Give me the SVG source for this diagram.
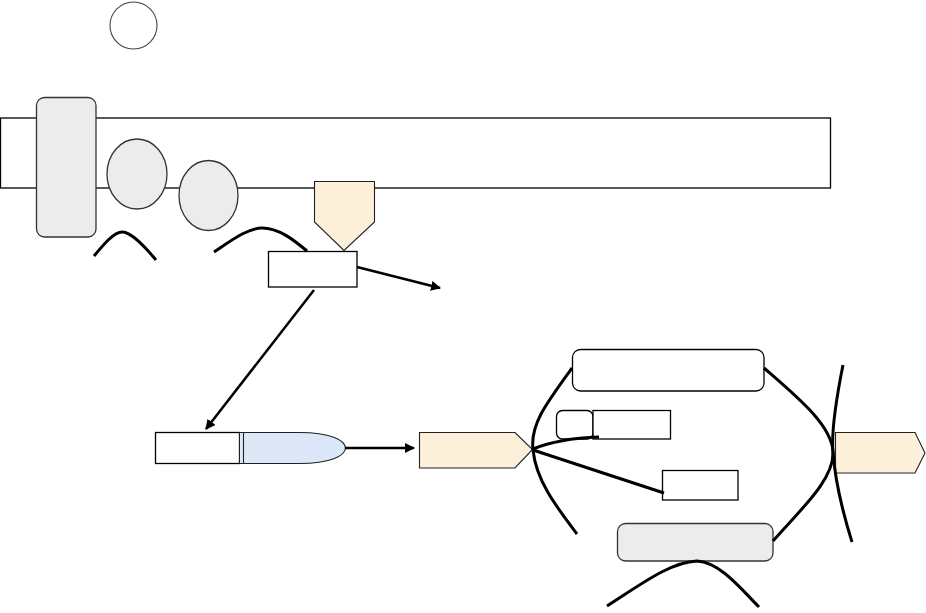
<svg xmlns="http://www.w3.org/2000/svg" width="926" height="613" viewBox="0 0 926 613">
<style>
.box{fill:#ffffff;stroke:#000;stroke-width:1.3}
.gray{fill:#ececec;stroke:#333;stroke-width:1.3}
.tan{fill:#fdf0da;stroke:#222;stroke-width:1.1}
.blue{fill:#dce8f7;stroke:#222;stroke-width:1.1}
.curve{fill:none;stroke:#000;stroke-width:3;stroke-linecap:butt}
.arrow{fill:none;stroke:#000;stroke-width:2.5}
</style>
<defs>
<marker id="ah" viewBox="0 0 10 10" refX="9" refY="5" markerWidth="4" markerHeight="4" orient="auto" markerUnits="strokeWidth">
<path d="M0,0 L10,5 L0,10 z" fill="#000"/>
</marker>
</defs>
<rect width="926" height="613" fill="#fff"/>
<g id="band"><rect class="box" x="0.5" y="118" width="830" height="70"/></g>
<g id="circle-top"><circle cx="133.5" cy="25.5" r="23.5" fill="#fff" stroke="#444" stroke-width="1.1"/></g>
<g id="pillar"><rect class="gray" x="36.5" y="97.5" width="59.5" height="139.5" rx="8"/></g>
<g id="ellipse1"><ellipse class="gray" cx="137" cy="174" rx="30" ry="35"/></g>
<g id="ellipse2"><ellipse class="gray" cx="208.5" cy="195.5" rx="29.5" ry="35"/></g>
<g id="pentagon-down"><path class="tan" d="M314.5,181.5 H374.5 V222 L344,250.5 L314.5,222 Z"/></g>
<g id="box-mid"><rect class="box" x="268.5" y="251.5" width="88.5" height="35.5"/></g>
<g id="bullet">
<rect class="box" x="155.5" y="432.5" width="84" height="31"/>
<rect x="239.5" y="432.5" width="4" height="31" fill="#dce8f7" stroke="#222" stroke-width="1"/>
<path class="blue" d="M243.5,432.5 H300 C330,432.5 345,440 345.5,448 C345,456 330,463.5 300,463.5 H243.5 Z"/>
</g>
<g id="tan-arrow1"><path class="tan" d="M419.5,432.5 H515 L532.5,449.5 L515,468 H419.5 Z"/></g>
<g id="rbox-top"><rect class="box" x="572.5" y="349.5" width="191.5" height="41.5" rx="8"/></g>
<g id="rbox-small"><rect class="box" x="556.5" y="410.5" width="36.5" height="28.5" rx="6"/></g>
<g id="box-small2"><rect class="box" x="593" y="410.5" width="77.5" height="28.5"/></g>
<g id="box-small3"><rect class="box" x="662.5" y="470.5" width="75.5" height="29.5"/></g>
<g id="rbox-gray"><rect class="gray" x="617.5" y="523.5" width="155.5" height="37.5" rx="8"/></g>
<g id="tan-arrow2"><path class="tan" d="M835.5,432.5 H915 L925,453 L915,473 H835.5 Z"/></g>
<g id="connectors">
<path class="curve" d="M94,256 C104,244 114,232 122,232 C132,232 146,248 156,260"/>
<path class="curve" d="M214,252 C232,240 248,228 262,228 C280,228 296,242 307,251"/>
<path class="arrow" d="M357,267 L440,288" marker-end="url(#ah)"/>
<path class="arrow" d="M314,290 L206,429" marker-end="url(#ah)"/>
<path class="arrow" d="M345,448 L414,448" marker-end="url(#ah)"/>
<path class="curve" d="M572,368 C545,405 530,425 533,450 C536,480 555,505 577,534"/>
<path class="curve" d="M533,449 C550,442 570,438 599,437"/>
<path class="curve" d="M533,450 L664,493"/>
<path class="curve" d="M764,368 C795,395 832,425 833,452 C834,480 800,510 773,541"/>
<path class="curve" d="M843,365 C836,400 831,430 833,452 C835,480 842,510 852,542"/>
<path class="curve" d="M607,606 C640,585 670,562 697,561 C720,562 742,590 759,607"/>
</g>
</svg>
